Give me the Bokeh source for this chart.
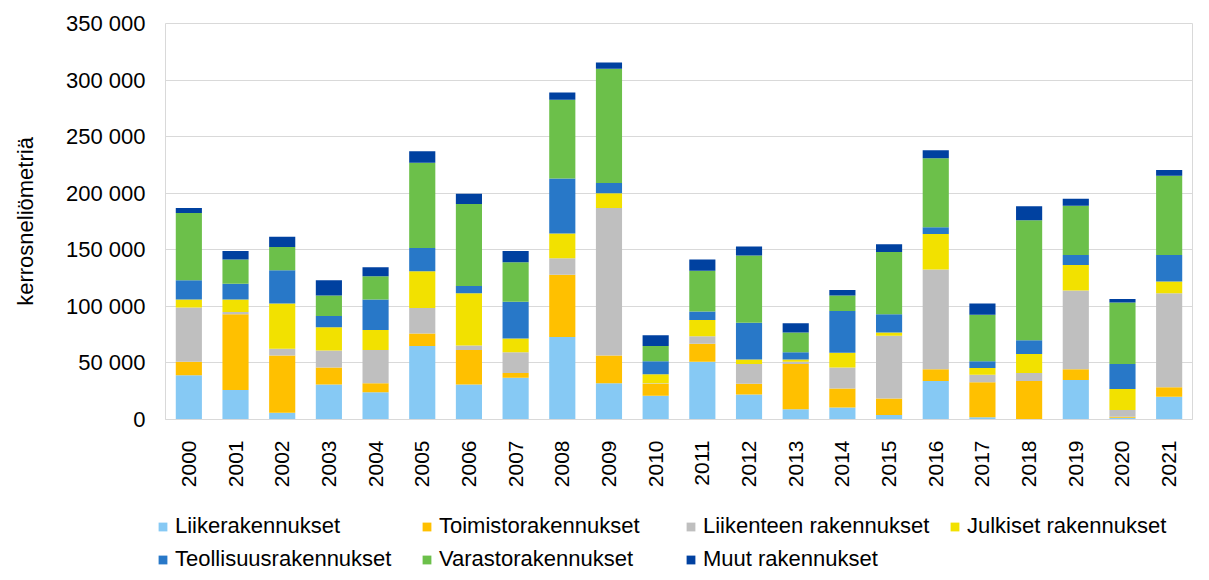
import math
from bokeh.plotting import figure
from bokeh.layouts import column, row
from bokeh.models import (Legend, LegendItem, FixedTicker, CustomJSTickFormatter, Range1d)
from bokeh.embed import file_html
from bokeh.resources import INLINE

years = [str(y) for y in range(2000, 2022)]

liike = [39000, 26000, 6000, 31000, 24000, 65000, 31000, 37000, 73000, 32000, 21000,
         51000, 22000, 9000, 10500, 4000, 34000, 2000, 0, 35000, 1500, 20000]
toimisto = [12000, 67000, 50500, 15000, 8000, 11000, 30500, 4000, 55000, 24500, 10500,
            16000, 9500, 40000, 17000, 14500, 10500, 31000, 34000, 9500, 1000, 8500]
liikenteen = [48000, 2000, 6000, 15000, 29500, 22500, 4000, 18500, 14500, 130500, 500,
              6500, 17500, 2000, 18500, 55500, 88000, 6500, 7000, 69500, 6000, 83000]
julkiset = [7000, 11000, 40000, 20500, 17500, 32500, 46000, 12000, 22000, 13000, 8000,
            14500, 4000, 2000, 13000, 3000, 31500, 6000, 17000, 22500, 18500, 10500]
teollisuus = [17000, 14000, 29500, 10000, 27000, 20500, 6500, 32500, 48500, 9000, 11500,
              7500, 32500, 6500, 37000, 16000, 6000, 6000, 12000, 9000, 22000, 23500]
varasto = [59500, 21500, 20500, 18000, 20500, 75500, 72500, 35000, 69500, 101000, 13500,
           36000, 59500, 17500, 13500, 55000, 61000, 41000, 106000, 43500, 54500, 70000]
muut = [4500, 7500, 9000, 13500, 8000, 10000, 9000, 10000, 6500, 5500, 9500,
        10000, 8000, 8000, 5000, 7000, 7000, 10000, 12500, 6000, 3000, 5000]

series_names = ["Liikerakennukset", "Toimistorakennukset", "Liikenteen rakennukset",
                "Julkiset rakennukset", "Teollisuusrakennukset", "Varastorakennukset",
                "Muut rakennukset"]
colors = ["#86C9F4", "#FFC000", "#BFBFBF", "#F2E100", "#2878C8", "#6CC04A", "#0041A0"]
y_ticks = [0, 50000, 100000, 150000, 200000, 250000, 300000, 350000]

keys = ["liike", "toimisto", "liikenteen", "julkiset", "teollisuus", "varasto", "muut"]
data = dict(year=years, liike=liike, toimisto=toimisto, liikenteen=liikenteen,
            julkiset=julkiset, teollisuus=teollisuus, varasto=varasto, muut=muut)

FONT = "Liberation Sans"
W = 1193

p = figure(x_range=years, y_range=Range1d(0, 350000), width=W, height=490,
           output_backend="svg", toolbar_location=None,
           min_border_left=165, min_border_right=1, min_border_top=23, min_border_bottom=66)

renderers = p.vbar_stack(keys, x="year", width=0.56, source=data, color=colors,
                         line_color=None)

p.outline_line_color = "#D9D9D9"
p.xgrid.grid_line_color = None
p.ygrid.grid_line_color = "#D9D9D9"
p.ygrid.grid_line_width = 1
p.x_range.range_padding = 0.0

p.yaxis.ticker = FixedTicker(ticks=y_ticks)
p.yaxis.formatter = CustomJSTickFormatter(
    code="return tick.toFixed(0).replace(/\\B(?=(\\d{3})+(?!\\d))/g, ' ');")
p.yaxis.axis_label = "kerrosneliömetriä"
p.yaxis.axis_label_text_font = FONT
p.yaxis.axis_label_text_font_size = "22px"
p.yaxis.axis_label_text_font_style = "normal"
p.yaxis.axis_label_text_color = "#000000"
p.yaxis.axis_label_standoff = 25
p.yaxis.major_label_standoff = 14
p.yaxis.axis_line_color = None
p.yaxis.major_tick_line_color = None
p.yaxis.minor_tick_line_color = None
p.yaxis.major_label_text_font_size = "22px"

p.xaxis.major_label_orientation = math.pi / 2
p.xaxis.major_label_standoff = 15
p.xaxis.axis_line_color = "#D9D9D9"
p.xaxis.major_tick_line_color = None
p.xaxis.minor_tick_line_color = None
p.xaxis.major_label_text_font_size = "21px"

for ax in (p.xaxis, p.yaxis):
    ax.major_label_text_font = FONT
    ax.major_label_text_color = "#000000"

# Legend in its own strip below the chart
lg = figure(width=W, height=82, output_backend="svg", toolbar_location=None,
            x_range=Range1d(0, 1), y_range=Range1d(0, 1),
            min_border_left=0, min_border_right=0, min_border_top=0, min_border_bottom=0)
lg.axis.visible = False
lg.grid.visible = False
lg.outline_line_color = None
dummy = dict(x=[-5.0], top=[-5.0])
dummies = [lg.vbar(x="x", top="top", width=0.5, source=dummy, color=c, line_color=None)
           for c in colors]

items = [LegendItem(label=n, renderers=[r]) for n, r in zip(series_names, dummies)]
legend = Legend(items=items, orientation="horizontal", ncols=4, location=(157, 0),
                glyph_width=11, glyph_height=11, label_standoff=7, label_width=239,
                spacing=7, padding=0, margin=0, border_line_color=None,
                background_fill_alpha=0, label_text_font=FONT,
                label_text_font_size="22px", label_text_color="#000000")
lg.add_layout(legend, "center")

layout = column(p, row(lg), spacing=0)
open("out.html", "w").write(file_html(layout, INLINE))
